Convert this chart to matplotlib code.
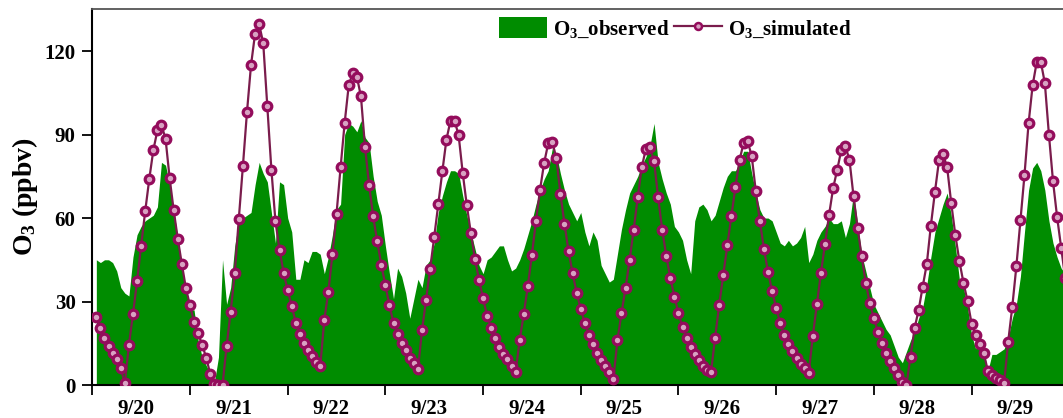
import matplotlib
matplotlib.use("Agg")
import matplotlib.pyplot as plt
from matplotlib.patches import Patch
from matplotlib.lines import Line2D

plt.rcParams['font.family'] = ['Liberation Serif', 'DejaVu Serif']
plt.rcParams['font.weight'] = 'bold'
plt.rcParams['mathtext.fontset'] = 'custom'
plt.rcParams['mathtext.rm'] = 'Liberation Serif:bold'
plt.rcParams['mathtext.it'] = 'Liberation Serif:bold'
plt.rcParams['mathtext.bf'] = 'Liberation Serif:bold'

# hours since 9/20 00:00
hours = list(range(1, 240))

obs = [45, 44, 45, 45, 44, 41, 35, 33, 32, 46, 54, 57, 59, 60, 61, 64, 80, 79, 72, 63,
       53, 43, 34, 27, 27, 16, 10, 7, 4, 1, 10, 45, 29, 35, 50, 59, 60, 61, 62, 72,
       80, 76, 73, 62, 51, 73, 72, 60, 55, 38, 38, 45, 44, 48, 48, 47, 40, 46, 54, 63,
       65, 90, 94, 93, 91, 95, 89, 87, 75, 66, 61, 50, 40, 31, 42, 39, 33, 24, 31, 38,
       35, 43, 45, 51, 62, 68, 73, 77, 77, 76, 68, 61, 55, 49, 43, 40, 45, 46, 48, 50,
       50, 45, 41, 42, 45, 49, 54, 59, 65, 70, 74, 77, 85, 83, 76, 70, 65, 62, 59, 62,
       55, 50, 55, 52, 43, 40, 37, 38, 47, 56, 63, 69, 72, 75, 79, 82, 86, 94, 80, 74,
       69, 65, 57, 55, 52, 45, 40, 59, 64, 65, 63, 59, 61, 66, 71, 75, 77, 77, 80, 84,
       84, 76, 69, 63, 60, 60, 59, 55, 51, 50, 52, 50, 51, 53, 57, 44, 47, 52, 55, 57,
       60, 58, 58, 59, 53, 58, 69, 58, 47, 41, 35, 29, 26, 23, 20, 18, 14, 10, 8, 12,
       16, 19, 24, 28, 36, 46, 55, 60, 65, 69, 61, 50, 38, 35, 28, 18, 13, 17, 12, 5,
       11, 11, 12, 13, 17, 24, 29, 39, 55, 70, 78, 80, 77, 70, 59, 51, 46, 42, 40]

sim = [24.6, 20.4, 17.0, 14.0, 11.6, 9.2, 6.0, 0.6, 14.4, 25.5, 37.2, 50.0, 62.4, 74.0,
       84.4, 91.5, 93.4, 88.5, 74.4, 62.8, 52.6, 43.5, 34.8, 28.6,
       22.8, 18.6, 14.4, 9.8, 3.8, 0.5, 0.0, 0.0, 14.0, 26.4, 40.2, 59.8, 78.6, 98.0,
       115.0, 126.3, 129.6, 122.8, 100.2, 77.4, 58.8, 48.6, 40.4, 34.0,
       28.4, 22.4, 18.2, 15.0, 12.6, 10.4, 8.4, 6.8, 23.4, 33.6, 47.0, 61.5, 78.2, 94.2,
       107.7, 112.2, 110.8, 103.7, 85.6, 71.8, 60.6, 51.6, 43.2, 36.0,
       28.6, 22.2, 18.4, 15.0, 12.6, 9.6, 7.8, 5.6, 19.6, 30.6, 41.8, 53.2, 65.0, 76.8,
       88.2, 95.0, 95.0, 89.7, 76.2, 64.6, 54.6, 45.4, 37.8, 31.2,
       24.8, 20.6, 16.8, 13.8, 11.2, 9.2, 6.8, 4.8, 16.2, 25.6, 35.6, 46.8, 59.0, 70.2,
       79.8, 86.8, 87.3, 81.6, 68.7, 57.9, 48.0, 40.2, 33.0, 27.3,
       22.2, 18.0, 14.7, 11.6, 9.0, 6.8, 4.8, 2.0, 16.0, 25.8, 34.8, 45.0, 55.8, 67.5,
       78.4, 84.9, 85.5, 80.4, 67.5, 55.8, 46.5, 38.4, 31.8, 25.8,
       20.8, 16.8, 13.6, 11.2, 9.0, 6.8, 5.4, 4.6, 17.0, 28.8, 39.6, 50.2, 60.6, 71.2,
       80.8, 87.0, 87.6, 82.2, 69.6, 58.8, 48.9, 40.6, 33.8, 27.8,
       22.2, 18.0, 14.7, 12.2, 9.6, 7.6, 6.0, 4.4, 17.6, 29.0, 40.3, 50.8, 61.2, 70.8,
       77.4, 84.4, 85.8, 81.0, 67.8, 56.4, 46.2, 36.8, 29.4, 24.0,
       19.2, 15.0, 11.4, 8.6, 6.2, 3.6, 1.2, 0.0, 10.2, 20.4, 27.0, 35.4, 43.5, 57.3,
       69.4, 80.7, 83.0, 78.2, 65.4, 54.0, 44.6, 36.8, 30.3, 22.1,
       17.8, 14.6, 11.4, 5.1, 3.6, 2.4, 1.8, 0.9, 15.6, 28.1, 42.6, 59.2, 75.5, 94.0,
       107.7, 116.0, 116.2, 108.5, 90.0, 73.3, 60.5, 49.3, 38.5]

day_labels = ['9/20', '9/21', '9/22', '9/23', '9/24', '9/25', '9/26', '9/27', '9/28', '9/29']
y_ticks = [0, 30, 60, 90, 120]

green = '#008C00'
line_col = '#7A1C4C'
mark_col = '#940C5C'
mark_face = '#D8A2C2'

fig = plt.figure(figsize=(10.63, 4.18), dpi=100)
ax = fig.add_axes([0.0868, 0.0789, 0.9191, 0.8988])

ax.fill_between(hours, obs, 0, color=green, linewidth=0, zorder=1)
ax.plot(hours, sim, '-', color=line_col, lw=1.6, marker='o', ms=6.2, mew=2.3,
        mec=mark_col, mfc=mark_face, zorder=3, clip_on=True)

ax.set_xlim(0, 240)
ax.set_ylim(0, 135)

ax.set_xticks(list(range(0, 241, 24)))
ax.set_xticklabels([])
ax.set_xticks([d * 24 + 10.7 for d in range(len(day_labels))], minor=True)
ax.set_xticklabels(day_labels, minor=True)
ax.tick_params(axis='x', which='major', direction='out', length=7, width=1.3)
ax.tick_params(axis='x', which='minor', length=0, pad=10, labelsize=15)

ax.set_yticks(y_ticks)
ax.set_yticklabels([str(v) for v in y_ticks])
ax.tick_params(axis='y', direction='out', length=7, width=1.3, pad=5, labelsize=15)
for lab in ax.get_xticklabels(minor=True) + ax.get_yticklabels():
    lab.set_fontweight('bold')

ax.set_ylabel('O$_3$ (ppbv)', fontsize=20, fontweight='bold', labelpad=3)

for s in ['left', 'bottom']:
    ax.spines[s].set_linewidth(1.5)
    ax.spines[s].set_color('black')
ax.spines['top'].set_linewidth(1.3)
ax.spines['top'].set_color('#555555')
ax.spines['right'].set_visible(False)

handles = [Patch(facecolor=green, edgecolor='none'),
           Line2D([0], [0], color=line_col, lw=1.6, marker='o', ms=5, mew=1.8,
                  mec=mark_col, mfc=mark_face)]
ax.legend(handles, ['O$_3$_observed', 'O$_3$_simulated'], loc='upper left',
          bbox_to_anchor=(0.397, 1.03), ncol=2, frameon=False,
          prop={'family': 'Liberation Serif', 'weight': 'bold', 'size': 15},
          handlelength=2.3, handleheight=1.2, handletextpad=0.3, columnspacing=0.2)

fig.savefig('out.png', dpi=100)
